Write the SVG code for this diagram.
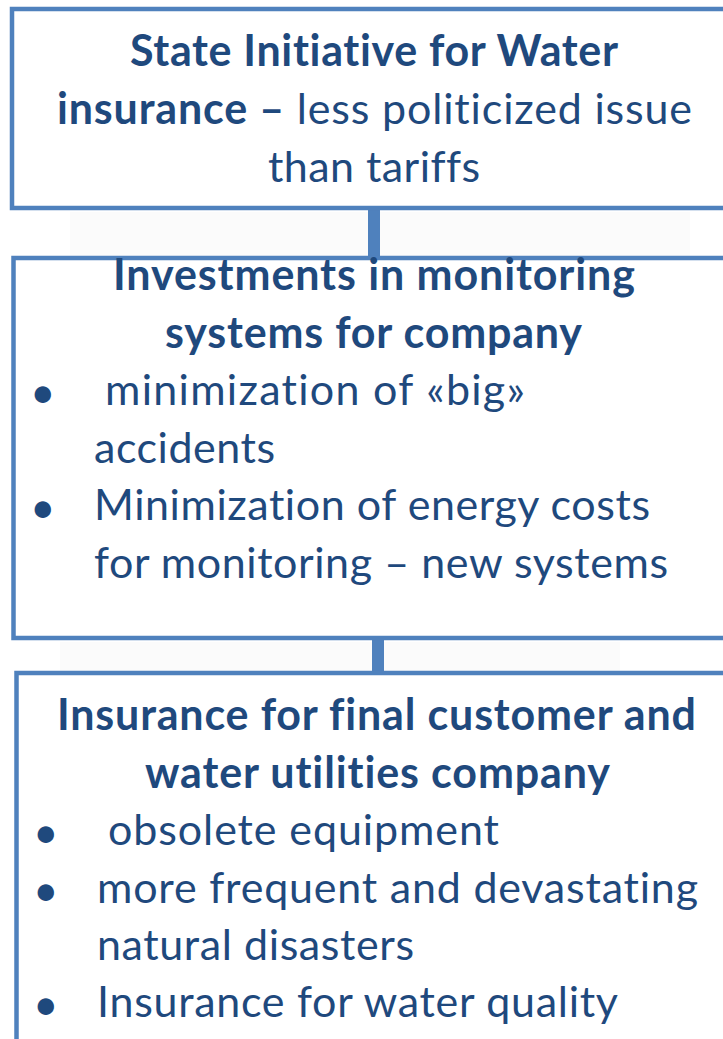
<svg xmlns="http://www.w3.org/2000/svg" width="723" height="1039" viewBox="0 0 723 1039">
  <style>
    .box { fill: #ffffff; stroke: #4F81BD; stroke-width: 4.5; }
    .link { fill: #4F81BD; }
    .haze { fill: #f3f3f3; }
    text { font-family: Lato, "Open Sans", "Liberation Sans", sans-serif; font-size: 43px; fill: #1F497D; font-variant-ligatures: none; }
    .b { font-weight: bold; }
    .dot { font-size: 44px; }
  </style>

  <rect x="0" y="0" width="723" height="1039" fill="#ffffff"/>
  <!-- faint backdrop showing between the boxes -->
  <rect class="haze" x="70" y="212" width="620" height="44" opacity="0.35"/>
  <rect class="haze" x="60" y="642" width="560" height="30" opacity="0.35"/>

  <g id="connectors">
    <rect class="link" x="368" y="208" width="12" height="52"/>
    <rect class="link" x="372" y="638" width="12" height="37"/>
  </g>

  <g id="node-state-initiative">
    <rect class="box" x="12" y="9" width="740" height="199"/>
    <text class="b" x="130" y="66" textLength="488" lengthAdjust="spacing">State Initiative for Water</text>
    <text x="57" y="124" textLength="635" lengthAdjust="spacing"><tspan class="b">insurance  –</tspan> less politicized issue</text>
    <text x="268" y="182" textLength="212" lengthAdjust="spacing">than tariffs</text>
  </g>

  <g id="node-monitoring">
    <rect class="box" x="13.5" y="258" width="740" height="380"/>
    <text class="b" x="113" y="290" textLength="522" lengthAdjust="spacing">Investments in monitoring</text>
    <text class="b" x="165" y="348" textLength="417" lengthAdjust="spacing">systems for company</text>
    <text class="dot" x="30" y="408">•</text>
    <text x="105" y="405" textLength="420" lengthAdjust="spacing">minimization of «big»</text>
    <text x="94" y="463" textLength="181" lengthAdjust="spacing">accidents</text>
    <text class="dot" x="30" y="523">•</text>
    <text x="94" y="520" textLength="556" lengthAdjust="spacing">Minimization of energy costs</text>
    <text x="94" y="578" textLength="574" lengthAdjust="spacing">for monitoring – new systems</text>
  </g>

  <g id="node-insurance">
    <rect class="box" x="16.5" y="673" width="740" height="400"/>
    <text class="b" x="57" y="730" textLength="639" lengthAdjust="spacing">Insurance for final customer and</text>
    <text class="b" x="145" y="788" textLength="465" lengthAdjust="spacing">water utilities company</text>
    <text class="dot" x="33" y="848">•</text>
    <text x="108" y="845" textLength="391" lengthAdjust="spacing">obsolete equipment</text>
    <text class="dot" x="33" y="906">•</text>
    <text x="97" y="903" textLength="601" lengthAdjust="spacing">more frequent and devastating</text>
    <text x="97" y="960" textLength="317" lengthAdjust="spacing">natural disasters</text>
    <text class="dot" x="33" y="1020">•</text>
    <text x="97" y="1017" textLength="521" lengthAdjust="spacing">Insurance for water quality</text>
  </g>
</svg>
